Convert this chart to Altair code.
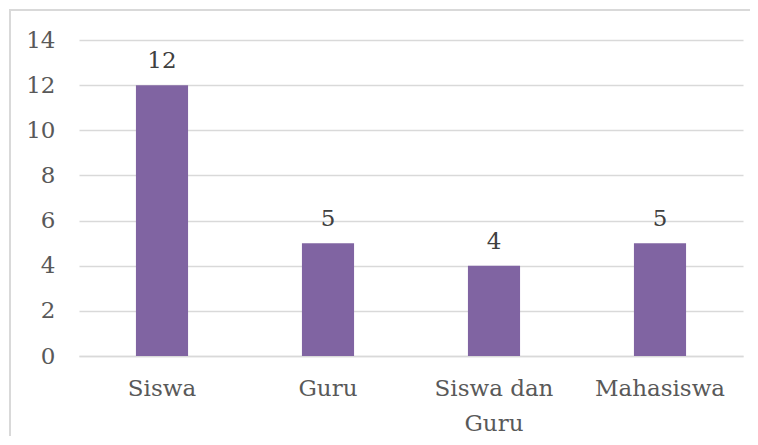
import altair as alt
import pandas as pd

categories = ["Siswa", "Guru", "Siswa dan Guru", "Mahasiswa"]
values = [12, 5, 4, 5]
y_ticks = [0, 2, 4, 6, 8, 10, 12, 14]

df = pd.DataFrame({"kategori": categories, "jumlah": values})

W, H = 664, 316
FONT = "DejaVu Serif"
FS = 23

x_enc = alt.X(
    "kategori:N",
    sort=categories,
    scale=alt.Scale(paddingInner=0.686, paddingOuter=0.343),
    axis=alt.Axis(
        title=None, labelAngle=0, ticks=False, domain=True,
        domainColor="#d9d9d9", domainWidth=1.5,
        labelFont=FONT, labelFontSize=FS, labelColor="#595959",
        labelPadding=21, labelLineHeight=35,
        labelExpr="datum.value == 'Siswa dan Guru' ? ['Siswa dan', 'Guru'] : datum.value",
    ),
)
y_enc = alt.Y(
    "jumlah:Q",
    scale=alt.Scale(domain=[0, 14], nice=False),
    axis=alt.Axis(
        title=None, values=y_ticks, ticks=False, domain=False,
        grid=True, gridColor="#d9d9d9", gridWidth=1.5,
        labelFont=FONT, labelFontSize=FS, labelColor="#595959",
        labelPadding=24,
    ),
)

border = alt.Chart(df).mark_rect(
    fill=None, stroke="#d9d9d9", strokeWidth=1.5, clip=False
).encode(
    x=alt.value(-69), x2=alt.value(W + 60),
    y=alt.value(-30), y2=alt.value(H + 140),
)

bars = alt.Chart(df).mark_bar(color="#8064A2").encode(x=x_enc, y=y_enc)

labels = alt.Chart(df).mark_text(
    baseline="alphabetic", dy=-17, font=FONT, fontSize=FS, color="#404040"
).encode(
    x=alt.X("kategori:N", sort=categories),
    y="jumlah:Q",
    text="jumlah:Q",
)

chart = alt.layer(border, bars, labels).properties(
    width=W, height=H,
    autosize=alt.AutoSizeParams(type="none"),
    padding={"left": 71, "top": 32, "right": 7, "bottom": 80},
).configure_view(stroke=None)

chart.save("out.html", embed_options={"renderer": "svg", "actions": False})
